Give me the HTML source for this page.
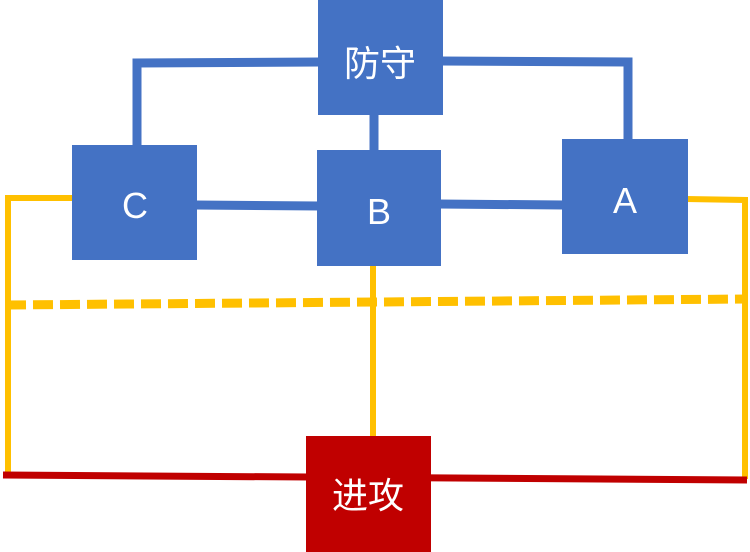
<!DOCTYPE html>
<html><head><meta charset="utf-8"><style>
html,body{margin:0;padding:0;background:#fff;}
svg{display:block;}
text{font-family:"Liberation Sans","Noto Sans CJK SC",sans-serif;fill:#fff;}
</style></head><body>
<svg width="750" height="552" viewBox="0 0 750 552" xmlns="http://www.w3.org/2000/svg">
<g stroke="#4472C4" stroke-width="9" fill="none">
<polyline points="320,62 137,63 137,147"/>
<polyline points="440,61 628,62 628,141"/>
<line x1="374" y1="112" x2="374" y2="152"/>
<line x1="195" y1="205" x2="320" y2="206"/>
<line x1="438" y1="204" x2="564" y2="205"/>
</g>
<g stroke="#FFC000" stroke-width="6" fill="none">
<polyline points="74,198 8,198 8,474"/>
<polyline points="686,199 745,200 745,479"/>
<line x1="373" y1="264" x2="373" y2="438"/>
</g>
<line x1="6" y1="305" x2="747" y2="299" stroke="#FFC000" stroke-width="9" stroke-dasharray="20,7"/>
<line x1="3" y1="475" x2="747" y2="480" stroke="#C00000" stroke-width="7"/>
<rect x="318" y="0" width="125" height="115" fill="#4472C4"/>
<rect x="72" y="145" width="125" height="115" fill="#4472C4"/>
<rect x="317" y="150" width="124" height="116" fill="#4472C4"/>
<rect x="562" y="139" width="126" height="115" fill="#4472C4"/>
<rect x="306" y="436" width="125" height="116" fill="#C00000"/>
<text x="380" y="76" font-size="36" text-anchor="middle">防守</text>
<text x="135" y="218" font-size="36" text-anchor="middle">C</text>
<text x="379" y="224" font-size="36" text-anchor="middle">B</text>
<text x="625" y="213" font-size="36" text-anchor="middle">A</text>
<text x="368" y="508" font-size="36" text-anchor="middle">进攻</text>
</svg>
</body></html>
